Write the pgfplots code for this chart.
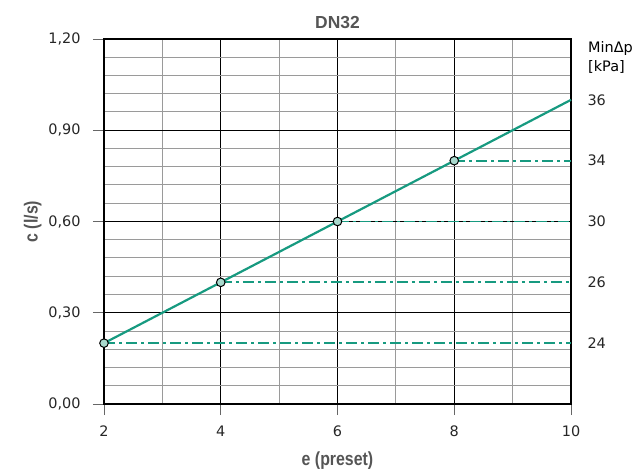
\documentclass[border=0pt]{standalone}
\usepackage{fontspec}
\setmainfont{DejaVu Sans}
\newfontfamily\labfont{Liberation Sans}
\usepackage{graphicx}
\usepackage{pgfplots}
\pgfplotsset{compat=1.18}
\definecolor{teal1}{HTML}{179A80}
\definecolor{mfill}{HTML}{A9D9CD}
\definecolor{lblgray}{HTML}{555555}
\definecolor{minorgray}{HTML}{9A9A9A}
\begin{document}
\begin{tikzpicture}[x=1bp,y=1bp]
\begin{axis}[
  at={(0,0)}, anchor=south west,
  scale only axis, width=467bp, height=365bp,
  xmin=2, xmax=10, ymin=0, ymax=1.2,
  xtick={2,4,6,8,10}, ytick={0,0.3,0.6,0.9,1.2},
  minor x tick num=1, minor y tick num=4,
  grid=both,
  major grid style={black, line width=0.8bp},
  minor grid style={minorgray, line width=1bp},
  axis line style={black, line width=1.7bp},
  tick pos=left, tick align=outside,
  major tick length=11bp, minor tick length=0pt,
  tick style={gray!80!black, line width=0.9bp},
  ticklabel style={font=\fontsize{14.5}{16}\selectfont, text=black!85},
  /pgf/number format/assume math mode=true,
  yticklabel style={/pgf/number format/fixed, /pgf/number format/fixed zerofill, /pgf/number format/precision=2, /pgf/number format/use comma, xshift=-9bp},
  xticklabel style={yshift=-7bp},
  title={\labfont\bfseries DN32},
  title style={font=\fontsize{17.5}{19}\selectfont, text=lblgray, yshift=1bp},
  xlabel={\scalebox{0.84}[1]{\labfont\bfseries e (preset)}},
  ylabel={\scalebox{0.84}[1]{\labfont\bfseries c (l/s)}},
  label style={font=\fontsize{19}{21}\selectfont, text=lblgray},
  xlabel style={yshift=-8bp},
  clip=false,
]
\addplot[draw=none] coordinates {(2,0)};
\node[anchor=base west, font=\fontsize{14.5}{16}\selectfont, inner sep=0pt] at (rel axis cs:1,1) [xshift=17bp, yshift=-14bp] {MinΔp};
\node[anchor=base west, font=\fontsize{14.5}{16}\selectfont, inner sep=0pt] at (rel axis cs:1,1) [xshift=17bp, yshift=-33bp] {[kPa]};
\end{axis}
\begin{axis}[
  at={(0,0)}, anchor=south west,
  scale only axis, width=467bp, height=365bp,
  xmin=2, xmax=10, ymin=0, ymax=1.2,
  axis x line=none,
  axis y line*=right,
  y axis line style={draw=none},
  ymajorgrids=false, yminorgrids=false,
  ytick={0.2,0.4,0.6,0.8,1.0},
  yticklabels={24,26,30,34,36},
  major tick length=0pt,
  ytick style={draw=none},
  ticklabel style={font=\fontsize{14.5}{16}\selectfont, text=black!85},
  yticklabel style={anchor=west, xshift=13bp},
  clip=false,
]
\addplot[teal1, line width=1.9bp, dash pattern=on 11bp off 4bp on 3bp off 4bp] coordinates {(2,0.2) (10,0.2)};
\addplot[teal1, line width=1.9bp, dash pattern=on 11bp off 4bp on 3bp off 4bp] coordinates {(4,0.4) (10,0.4)};
\addplot[teal1, line width=1.9bp, dash pattern=on 11bp off 4bp on 3bp off 4bp] table {
x y
6 0.6
10 0.6
};
\addplot[teal1, line width=1.9bp, dash pattern=on 11bp off 4bp on 3bp off 4bp] coordinates {(8,0.8) (10,0.8)};
\addplot[teal1, line width=2.2bp] coordinates {(2,0.2) (10,1.0)};
\addplot[only marks, mark=*, mark size=4.3bp, mark options={fill=mfill, draw=black, line width=1bp}] coordinates {(2,0.2) (4,0.4) (6,0.6) (8,0.8)};
\end{axis}
\pgfresetboundingbox
\path[use as bounding box] (-104bp,-67bp) rectangle (539bp,404bp);
\end{tikzpicture}
\end{document}
